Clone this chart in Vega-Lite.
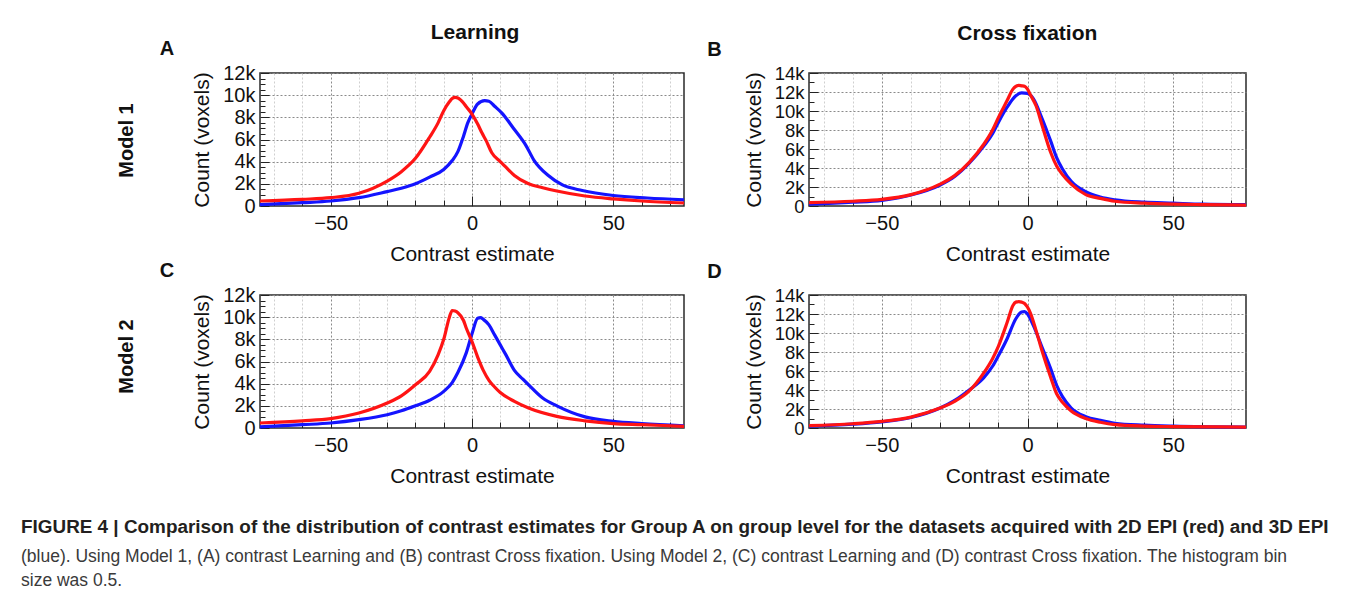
{
"$schema": "https://vega.github.io/schema/vega-lite/v6.json",
"padding": {"left": 21, "top": 22, "right": 0, "bottom": 0},
"background": "white",
"config": {
  "font": "Liberation Sans",
  "view": {"stroke": "#2a2a2a", "strokeWidth": 1.5},
  "axis": {"domain": false, "labelFont": "Liberation Sans", "labelFontSize": 20, "labelColor": "#111", "titleFont": "Liberation Sans", "titleFontSize": 21, "titleFontWeight": "normal", "titleColor": "#111", "tickColor": "#222", "gridDash": [2, 2], "labelOverlap": false, "labelFlush": false},
  "title": {"font": "Liberation Sans", "fontWeight": "bold", "fontSize": 20, "color": "#111"}
},
"data": {"values": [
{"p":"A","s":"r","x":-75,"y":450},{"p":"A","s":"r","x":-60,"y":600},{"p":"A","s":"r","x":-50,"y":750},{"p":"A","s":"r","x":-40,"y":1150},{"p":"A","s":"r","x":-30,"y":2250},{"p":"A","s":"r","x":-25,"y":3100},{"p":"A","s":"r","x":-20,"y":4300},{"p":"A","s":"r","x":-15,"y":6200},{"p":"A","s":"r","x":-12,"y":7500},{"p":"A","s":"r","x":-10,"y":8600},{"p":"A","s":"r","x":-8,"y":9400},{"p":"A","s":"r","x":-7,"y":9700},{"p":"A","s":"r","x":-6,"y":9800},{"p":"A","s":"r","x":-5,"y":9750},{"p":"A","s":"r","x":-3,"y":9300},{"p":"A","s":"r","x":-2,"y":8950},{"p":"A","s":"r","x":0,"y":8300},{"p":"A","s":"r","x":2,"y":7400},{"p":"A","s":"r","x":3.5,"y":6600},{"p":"A","s":"r","x":5,"y":5900},{"p":"A","s":"r","x":7,"y":4800},{"p":"A","s":"r","x":10,"y":4000},{"p":"A","s":"r","x":12,"y":3500},{"p":"A","s":"r","x":15,"y":2750},{"p":"A","s":"r","x":20,"y":2000},{"p":"A","s":"r","x":25,"y":1650},{"p":"A","s":"r","x":30,"y":1350},{"p":"A","s":"r","x":40,"y":900},{"p":"A","s":"r","x":50,"y":640},{"p":"A","s":"r","x":60,"y":450},{"p":"A","s":"r","x":75,"y":270},
{"p":"A","s":"b","x":-75,"y":120},{"p":"A","s":"b","x":-60,"y":300},{"p":"A","s":"b","x":-50,"y":450},{"p":"A","s":"b","x":-40,"y":750},{"p":"A","s":"b","x":-30,"y":1300},{"p":"A","s":"b","x":-25,"y":1600},{"p":"A","s":"b","x":-20,"y":2000},{"p":"A","s":"b","x":-15,"y":2600},{"p":"A","s":"b","x":-10,"y":3300},{"p":"A","s":"b","x":-7,"y":4100},{"p":"A","s":"b","x":-5,"y":4900},{"p":"A","s":"b","x":-3,"y":6300},{"p":"A","s":"b","x":-1.5,"y":7500},{"p":"A","s":"b","x":0,"y":8300},{"p":"A","s":"b","x":2,"y":9200},{"p":"A","s":"b","x":4.5,"y":9500},{"p":"A","s":"b","x":6,"y":9450},{"p":"A","s":"b","x":8,"y":9000},{"p":"A","s":"b","x":10.5,"y":8400},{"p":"A","s":"b","x":15,"y":6900},{"p":"A","s":"b","x":19,"y":5500},{"p":"A","s":"b","x":22,"y":4100},{"p":"A","s":"b","x":27,"y":2750},{"p":"A","s":"b","x":32,"y":1900},{"p":"A","s":"b","x":39,"y":1400},{"p":"A","s":"b","x":50,"y":950},{"p":"A","s":"b","x":62,"y":720},{"p":"A","s":"b","x":75,"y":550},
{"p":"B","s":"r","x":-75,"y":350},{"p":"B","s":"r","x":-60,"y":500},{"p":"B","s":"r","x":-50,"y":700},{"p":"B","s":"r","x":-40,"y":1200},{"p":"B","s":"r","x":-30,"y":2300},{"p":"B","s":"r","x":-25,"y":3200},{"p":"B","s":"r","x":-20,"y":4600},{"p":"B","s":"r","x":-15,"y":6500},{"p":"B","s":"r","x":-12,"y":8000},{"p":"B","s":"r","x":-10,"y":9300},{"p":"B","s":"r","x":-7,"y":11100},{"p":"B","s":"r","x":-5,"y":12300},{"p":"B","s":"r","x":-4,"y":12600},{"p":"B","s":"r","x":-3,"y":12700},{"p":"B","s":"r","x":-2,"y":12650},{"p":"B","s":"r","x":-1,"y":12600},{"p":"B","s":"r","x":0,"y":12300},{"p":"B","s":"r","x":1,"y":11700},{"p":"B","s":"r","x":3,"y":10500},{"p":"B","s":"r","x":5,"y":8500},{"p":"B","s":"r","x":8,"y":5600},{"p":"B","s":"r","x":10,"y":4200},{"p":"B","s":"r","x":12,"y":3300},{"p":"B","s":"r","x":15,"y":2300},{"p":"B","s":"r","x":20,"y":1200},{"p":"B","s":"r","x":25,"y":800},{"p":"B","s":"r","x":30,"y":500},{"p":"B","s":"r","x":40,"y":300},{"p":"B","s":"r","x":50,"y":200},{"p":"B","s":"r","x":60,"y":150},{"p":"B","s":"r","x":75,"y":100},
{"p":"B","s":"b","x":-75,"y":200},{"p":"B","s":"b","x":-60,"y":400},{"p":"B","s":"b","x":-50,"y":600},{"p":"B","s":"b","x":-40,"y":1150},{"p":"B","s":"b","x":-30,"y":2200},{"p":"B","s":"b","x":-25,"y":3100},{"p":"B","s":"b","x":-20,"y":4500},{"p":"B","s":"b","x":-15,"y":6300},{"p":"B","s":"b","x":-12,"y":7600},{"p":"B","s":"b","x":-10,"y":8800},{"p":"B","s":"b","x":-7,"y":10400},{"p":"B","s":"b","x":-4,"y":11600},{"p":"B","s":"b","x":-2,"y":11900},{"p":"B","s":"b","x":0,"y":11850},{"p":"B","s":"b","x":2,"y":11300},{"p":"B","s":"b","x":5,"y":9200},{"p":"B","s":"b","x":8,"y":6800},{"p":"B","s":"b","x":10,"y":5100},{"p":"B","s":"b","x":12,"y":3900},{"p":"B","s":"b","x":15,"y":2600},{"p":"B","s":"b","x":20,"y":1500},{"p":"B","s":"b","x":25,"y":950},{"p":"B","s":"b","x":30,"y":650},{"p":"B","s":"b","x":40,"y":400},{"p":"B","s":"b","x":50,"y":300},{"p":"B","s":"b","x":60,"y":200},{"p":"B","s":"b","x":75,"y":150},
{"p":"C","s":"r","x":-75,"y":450},{"p":"C","s":"r","x":-60,"y":650},{"p":"C","s":"r","x":-50,"y":850},{"p":"C","s":"r","x":-40,"y":1350},{"p":"C","s":"r","x":-30,"y":2250},{"p":"C","s":"r","x":-25,"y":2900},{"p":"C","s":"r","x":-20,"y":3900},{"p":"C","s":"r","x":-15,"y":5100},{"p":"C","s":"r","x":-12,"y":6600},{"p":"C","s":"r","x":-10,"y":8000},{"p":"C","s":"r","x":-8,"y":10000},{"p":"C","s":"r","x":-7,"y":10600},{"p":"C","s":"r","x":-6,"y":10550},{"p":"C","s":"r","x":-5,"y":10400},{"p":"C","s":"r","x":-3,"y":9700},{"p":"C","s":"r","x":-2,"y":9000},{"p":"C","s":"r","x":0,"y":7800},{"p":"C","s":"r","x":2,"y":6400},{"p":"C","s":"r","x":4,"y":5200},{"p":"C","s":"r","x":6,"y":4300},{"p":"C","s":"r","x":8,"y":3700},{"p":"C","s":"r","x":10,"y":3200},{"p":"C","s":"r","x":15,"y":2400},{"p":"C","s":"r","x":20,"y":1800},{"p":"C","s":"r","x":30,"y":1050},{"p":"C","s":"r","x":40,"y":650},{"p":"C","s":"r","x":50,"y":400},{"p":"C","s":"r","x":60,"y":300},{"p":"C","s":"r","x":75,"y":150},
{"p":"C","s":"b","x":-75,"y":100},{"p":"C","s":"b","x":-60,"y":300},{"p":"C","s":"b","x":-50,"y":450},{"p":"C","s":"b","x":-40,"y":750},{"p":"C","s":"b","x":-30,"y":1200},{"p":"C","s":"b","x":-25,"y":1550},{"p":"C","s":"b","x":-20,"y":2000},{"p":"C","s":"b","x":-15,"y":2500},{"p":"C","s":"b","x":-10,"y":3300},{"p":"C","s":"b","x":-7,"y":4100},{"p":"C","s":"b","x":-5,"y":5000},{"p":"C","s":"b","x":-2,"y":6800},{"p":"C","s":"b","x":0,"y":8500},{"p":"C","s":"b","x":2,"y":9900},{"p":"C","s":"b","x":3,"y":9950},{"p":"C","s":"b","x":4,"y":9800},{"p":"C","s":"b","x":6,"y":9300},{"p":"C","s":"b","x":8,"y":8400},{"p":"C","s":"b","x":10,"y":7500},{"p":"C","s":"b","x":12,"y":6600},{"p":"C","s":"b","x":15,"y":5200},{"p":"C","s":"b","x":18,"y":4400},{"p":"C","s":"b","x":20,"y":3900},{"p":"C","s":"b","x":25,"y":2700},{"p":"C","s":"b","x":30,"y":2000},{"p":"C","s":"b","x":40,"y":1000},{"p":"C","s":"b","x":50,"y":600},{"p":"C","s":"b","x":60,"y":400},{"p":"C","s":"b","x":75,"y":200},
{"p":"D","s":"r","x":-75,"y":250},{"p":"D","s":"r","x":-60,"y":450},{"p":"D","s":"r","x":-50,"y":700},{"p":"D","s":"r","x":-40,"y":1150},{"p":"D","s":"r","x":-30,"y":2100},{"p":"D","s":"r","x":-25,"y":2800},{"p":"D","s":"r","x":-20,"y":3900},{"p":"D","s":"r","x":-15,"y":5800},{"p":"D","s":"r","x":-12,"y":7300},{"p":"D","s":"r","x":-10,"y":8600},{"p":"D","s":"r","x":-7,"y":11100},{"p":"D","s":"r","x":-5,"y":12900},{"p":"D","s":"r","x":-4,"y":13250},{"p":"D","s":"r","x":-3,"y":13300},{"p":"D","s":"r","x":-2,"y":13250},{"p":"D","s":"r","x":-1,"y":13100},{"p":"D","s":"r","x":1,"y":12100},{"p":"D","s":"r","x":3,"y":10200},{"p":"D","s":"r","x":5,"y":8100},{"p":"D","s":"r","x":8,"y":5300},{"p":"D","s":"r","x":10,"y":3600},{"p":"D","s":"r","x":12,"y":2700},{"p":"D","s":"r","x":15,"y":1800},{"p":"D","s":"r","x":20,"y":1000},{"p":"D","s":"r","x":25,"y":600},{"p":"D","s":"r","x":30,"y":350},{"p":"D","s":"r","x":40,"y":200},{"p":"D","s":"r","x":50,"y":150},{"p":"D","s":"r","x":75,"y":100},
{"p":"D","s":"b","x":-75,"y":200},{"p":"D","s":"b","x":-60,"y":400},{"p":"D","s":"b","x":-50,"y":650},{"p":"D","s":"b","x":-40,"y":1100},{"p":"D","s":"b","x":-30,"y":2100},{"p":"D","s":"b","x":-25,"y":2900},{"p":"D","s":"b","x":-20,"y":4000},{"p":"D","s":"b","x":-15,"y":5300},{"p":"D","s":"b","x":-12,"y":6500},{"p":"D","s":"b","x":-10,"y":7600},{"p":"D","s":"b","x":-7,"y":9400},{"p":"D","s":"b","x":-4,"y":11500},{"p":"D","s":"b","x":-2,"y":12200},{"p":"D","s":"b","x":-1,"y":12250},{"p":"D","s":"b","x":0,"y":12000},{"p":"D","s":"b","x":2,"y":10800},{"p":"D","s":"b","x":5,"y":8500},{"p":"D","s":"b","x":8,"y":6200},{"p":"D","s":"b","x":10,"y":4500},{"p":"D","s":"b","x":12,"y":3300},{"p":"D","s":"b","x":15,"y":2100},{"p":"D","s":"b","x":20,"y":1200},{"p":"D","s":"b","x":25,"y":800},{"p":"D","s":"b","x":30,"y":500},{"p":"D","s":"b","x":40,"y":300},{"p":"D","s":"b","x":50,"y":200},{"p":"D","s":"b","x":75,"y":100}
]},
"title": {
  "text": "FIGURE 4 | Comparison of the distribution of contrast estimates for Group A on group level for the datasets acquired with 2D EPI (red) and 3D EPI",
  "subtitle": ["(blue). Using Model 1, (A) contrast Learning and (B) contrast Cross fixation. Using Model 2, (C) contrast Learning and (D) contrast Cross fixation. The histogram bin", "size was 0.5."],
  "orient": "bottom", "anchor": "start", "frame": "bounds", "dx": -96, "offset": 31,
  "font": "Liberation Sans", "fontSize": 18.9, "fontWeight": "bold", "color": "#231f20",
  "subtitleFont": "Liberation Sans", "subtitleFontSize": 17.5, "subtitleColor": "#3a3a3a", "subtitlePadding": 11, "subtitleLineHeight": 24
},
"spacing": -5,
"vconcat": [
  {"title": {"text": "Model 1", "orient": "left", "anchor": "middle", "fontSize": 20, "offset": 22, "dx": 3},
   "spacing": 14,
   "hconcat": [
    {"title": {"text": "Learning", "anchor": "middle", "dx": 50, "fontSize": 21, "offset": -5},
     "vconcat": [{
      "width": 424, "height": 133,
      "title": {"text": "A", "anchor": "start", "frame": "bounds", "dx": -32, "offset": 4},
      "transform": [{"filter": "datum.p === 'A'"}],
      "encoding": {
        "x": {"field": "x", "type": "quantitative", "scale": {"domain": [-75, 75], "nice": false, "zero": false},
              "axis": {"values": [-70,-60,-50,-40,-30,-20,-10,0,10,20,30,40,50,60,70], "labelExpr": "datum.value % 50 === 0 ? datum.label : ''", "title": "Contrast estimate", "tickSize": {"condition": {"test": "datum.value % 50 === 0", "value": -10}, "value": -6}, "gridColor": {"condition": {"test": "datum.value % 50 === 0", "value": "#8a8a8a"}, "value": "#cfcfcf"}, "labelPadding": 17, "titlePadding": 6}},
        "y": {"field": "y", "type": "quantitative", "scale": {"domain": [0, 12000], "nice": false},
              "axis": {"values": [0,500,1000,1500,2000,2500,3000,3500,4000,4500,5000,5500,6000,6500,7000,7500,8000,8500,9000,9500,10000,10500,11000,11500,12000], "labelExpr": "datum.value % 2000 === 0 ? format(datum.value, '~s') : ''", "title": "Count (voxels)", "tickSize": {"condition": {"test": "datum.value % 2000 === 0", "value": -9}, "value": -5}, "gridColor": "#8a8a8a", "gridOpacity": {"condition": {"test": "datum.value % 2000 === 0 && datum.value > 0", "value": 1}, "value": 0}, "labelPadding": 14, "titlePadding": 10}}
      },
      "layer": [
        {"transform": [{"filter": "datum.s === 'b'"}], "mark": {"type": "line", "color": "#1414ff", "strokeWidth": 3.2, "interpolate": "monotone"}},
        {"transform": [{"filter": "datum.s === 'r'"}], "mark": {"type": "line", "color": "#ff1414", "strokeWidth": 3.2, "interpolate": "monotone"}}
      ]
     }]},
    {"title": {"text": "Cross fixation", "anchor": "middle", "dx": 47.5, "fontSize": 21, "offset": -5},
     "vconcat": [{
      "width": 437, "height": 133,
      "title": {"text": "B", "anchor": "start", "frame": "bounds", "dx": -36, "offset": 4},
      "transform": [{"filter": "datum.p === 'B'"}],
      "encoding": {
        "x": {"field": "x", "type": "quantitative", "scale": {"domain": [-75, 75], "nice": false, "zero": false},
              "axis": {"values": [-70,-60,-50,-40,-30,-20,-10,0,10,20,30,40,50,60,70], "labelExpr": "datum.value % 50 === 0 ? datum.label : ''", "title": "Contrast estimate", "tickSize": {"condition": {"test": "datum.value % 50 === 0", "value": -10}, "value": -6}, "gridColor": {"condition": {"test": "datum.value % 50 === 0", "value": "#8a8a8a"}, "value": "#cfcfcf"}, "labelPadding": 17, "titlePadding": 6}},
        "y": {"field": "y", "type": "quantitative", "scale": {"domain": [0, 14000], "nice": false},
              "axis": {"values": [0,1000,2000,3000,4000,5000,6000,7000,8000,9000,10000,11000,12000,13000,14000], "labelExpr": "datum.value % 2000 === 0 ? format(datum.value, '~s') : ''", "labelFontSize": 18.5, "title": "Count (voxels)", "tickSize": {"condition": {"test": "datum.value % 2000 === 0", "value": -9}, "value": -5}, "gridColor": "#8a8a8a", "gridOpacity": {"condition": {"test": "datum.value % 2000 === 0 && datum.value > 0", "value": 1}, "value": 0}, "labelPadding": 14, "titlePadding": 10}}
      },
      "layer": [
        {"transform": [{"filter": "datum.s === 'b'"}], "mark": {"type": "line", "color": "#1414ff", "strokeWidth": 3.2, "interpolate": "monotone"}},
        {"transform": [{"filter": "datum.s === 'r'"}], "mark": {"type": "line", "color": "#ff1414", "strokeWidth": 3.2, "interpolate": "monotone"}}
      ]
     }]}
   ]},
  {"title": {"text": "Model 2", "orient": "left", "anchor": "middle", "fontSize": 20, "offset": 22, "dx": 17},
   "spacing": 14,
   "hconcat": [
    {
      "width": 424, "height": 133,
      "title": {"text": "C", "anchor": "start", "frame": "bounds", "dx": -32, "offset": 4},
      "transform": [{"filter": "datum.p === 'C'"}],
      "encoding": {
        "x": {"field": "x", "type": "quantitative", "scale": {"domain": [-75, 75], "nice": false, "zero": false},
              "axis": {"values": [-70,-60,-50,-40,-30,-20,-10,0,10,20,30,40,50,60,70], "labelExpr": "datum.value % 50 === 0 ? datum.label : ''", "title": "Contrast estimate", "tickSize": {"condition": {"test": "datum.value % 50 === 0", "value": -10}, "value": -6}, "gridColor": {"condition": {"test": "datum.value % 50 === 0", "value": "#8a8a8a"}, "value": "#cfcfcf"}, "labelPadding": 17, "titlePadding": 6}},
        "y": {"field": "y", "type": "quantitative", "scale": {"domain": [0, 12000], "nice": false},
              "axis": {"values": [0,500,1000,1500,2000,2500,3000,3500,4000,4500,5000,5500,6000,6500,7000,7500,8000,8500,9000,9500,10000,10500,11000,11500,12000], "labelExpr": "datum.value % 2000 === 0 ? format(datum.value, '~s') : ''", "title": "Count (voxels)", "tickSize": {"condition": {"test": "datum.value % 2000 === 0", "value": -9}, "value": -5}, "gridColor": "#8a8a8a", "gridOpacity": {"condition": {"test": "datum.value % 2000 === 0 && datum.value > 0", "value": 1}, "value": 0}, "labelPadding": 14, "titlePadding": 10}}
      },
      "layer": [
        {"transform": [{"filter": "datum.s === 'b'"}], "mark": {"type": "line", "color": "#1414ff", "strokeWidth": 3.2, "interpolate": "monotone"}},
        {"transform": [{"filter": "datum.s === 'r'"}], "mark": {"type": "line", "color": "#ff1414", "strokeWidth": 3.2, "interpolate": "monotone"}}
      ]
    },
    {
      "width": 437, "height": 133,
      "title": {"text": "D", "anchor": "start", "frame": "bounds", "dx": -36, "offset": 4},
      "transform": [{"filter": "datum.p === 'D'"}],
      "encoding": {
        "x": {"field": "x", "type": "quantitative", "scale": {"domain": [-75, 75], "nice": false, "zero": false},
              "axis": {"values": [-70,-60,-50,-40,-30,-20,-10,0,10,20,30,40,50,60,70], "labelExpr": "datum.value % 50 === 0 ? datum.label : ''", "title": "Contrast estimate", "tickSize": {"condition": {"test": "datum.value % 50 === 0", "value": -10}, "value": -6}, "gridColor": {"condition": {"test": "datum.value % 50 === 0", "value": "#8a8a8a"}, "value": "#cfcfcf"}, "labelPadding": 17, "titlePadding": 6}},
        "y": {"field": "y", "type": "quantitative", "scale": {"domain": [0, 14000], "nice": false},
              "axis": {"values": [0,1000,2000,3000,4000,5000,6000,7000,8000,9000,10000,11000,12000,13000,14000], "labelExpr": "datum.value % 2000 === 0 ? format(datum.value, '~s') : ''", "labelFontSize": 18.5, "title": "Count (voxels)", "tickSize": {"condition": {"test": "datum.value % 2000 === 0", "value": -9}, "value": -5}, "gridColor": "#8a8a8a", "gridOpacity": {"condition": {"test": "datum.value % 2000 === 0 && datum.value > 0", "value": 1}, "value": 0}, "labelPadding": 14, "titlePadding": 10}}
      },
      "layer": [
        {"transform": [{"filter": "datum.s === 'b'"}], "mark": {"type": "line", "color": "#1414ff", "strokeWidth": 3.2, "interpolate": "monotone"}},
        {"transform": [{"filter": "datum.s === 'r'"}], "mark": {"type": "line", "color": "#ff1414", "strokeWidth": 3.2, "interpolate": "monotone"}}
      ]
    }
   ]}
]
}
